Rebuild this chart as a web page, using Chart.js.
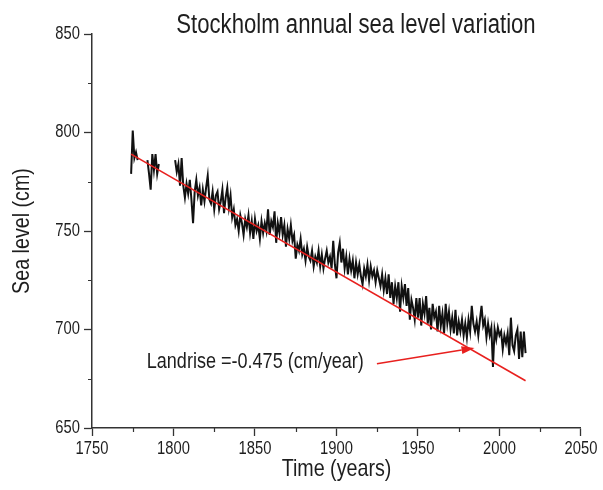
<!DOCTYPE html>
<html>
<head>
<meta charset="utf-8">
<script src="https://cdn.jsdelivr.net/npm/chart.js@4.4.1/dist/chart.umd.min.js"></script>
<style>
  html, body { margin: 0; padding: 0; background: #ffffff; }
  #wrap { width: 603px; height: 490px; }
</style>
</head>
<body>
<div id="wrap"><canvas id="c" width="603" height="490"></canvas></div>
<script>
// ---- data ----
const years = [
  1774,1775,1776,1777,1778,1779,
  1780,1781,1782,1783,1784,1785,1786,1787,1788,1789,
  1790,1791,1792,1793,1794,1795,1796,1797,1798,1799,
  1800,1801,1802,1803,1804,1805,1806,1807,1808,1809,
  1810,1811,1812,1813,1814,1815,1816,1817,1818,1819,
  1820,1821,1822,1823,1824,1825,1826,1827,1828,1829,
  1830,1831,1832,1833,1834,1835,1836,1837,1838,1839,
  1840,1841,1842,1843,1844,1845,1846,1847,1848,1849,
  1850,1851,1852,1853,1854,1855,1856,1857,1858,1859,
  1860,1861,1862,1863,1864,1865,1866,1867,1868,1869,
  1870,1871,1872,1873,1874,1875,1876,1877,1878,1879,
  1880,1881,1882,1883,1884,1885,1886,1887,1888,1889,
  1890,1891,1892,1893,1894,1895,1896,1897,1898,1899,
  1900,1901,1902,1903,1904,1905,1906,1907,1908,1909,
  1910,1911,1912,1913,1914,1915,1916,1917,1918,1919,
  1920,1921,1922,1923,1924,1925,1926,1927,1928,1929,
  1930,1931,1932,1933,1934,1935,1936,1937,1938,1939,
  1940,1941,1942,1943,1944,1945,1946,1947,1948,1949,
  1950,1951,1952,1953,1954,1955,1956,1957,1958,1959,
  1960,1961,1962,1963,1964,1965,1966,1967,1968,1969,
  1970,1971,1972,1973,1974,1975,1976,1977,1978,1979,
  1980,1981,1982,1983,1984,1985,1986,1987,1988,1989,
  1990,1991,1992,1993,1994,1995,1996,1997,1998,1999,
  2000,2001,2002,2003,2004,2005,2006,2007,2008,2009,
  2010,2011,2012,2013,2014,2015,2016
];
const seaLevel = [
  779,801,787,790,786,null,
  null,null,null,null,786,779,771,789,781,789,
  779,784,null,null,null,null,null,null,null,null,
  null,786,780,784,773,787,773,767,774,769,
  776,766,754,770,776,768,772,763,771,765,
  772,778,766,764,770,761,768,770,761,765,
  771,759,767,772,762,768,757,761,753,756,
  750,758,754,748,756,752,758,749,755,746,
  756,750,753,746,755,749,754,750,761,748,
  755,752,760,744,754,749,757,748,753,742,
  751,746,753,745,748,736,743,740,746,738,
  741,735,742,737,735,740,732,737,734,740,
  732,738,731,736,740,734,737,731,745,733,
  726,739,744,734,741,731,737,728,736,730,
  735,726,734,728,733,727,723,731,727,733,
  725,732,727,730,724,730,726,722,728,720,
  726,718,728,716,724,713,722,716,724,709,
  722,716,723,712,721,705,715,711,705,716,
  706,716,702,713,708,717,703,711,700,713,
  706,709,699,712,702,708,698,713,703,709,
  700,706,698,710,697,704,699,705,697,703,
  696,705,699,712,703,699,704,697,705,712,
  702,705,696,703,697,701,681,700,695,701,
  697,699,690,697,693,698,687,706,692,689,
  697,700,685,699,686,699,688
];
// linear land-rise fit (-0.475 cm/year)
const trendYears = [1774, 2016];
const trendLevel = [789, 674];

// tick values
const xMajorTicks = [1750, 1800, 1850, 1900, 1950, 2000, 2050];
const xMinorTicks = [1775, 1825, 1875, 1925, 1975, 2025];
const yMinorTicks = [675, 725, 775, 825];

// annotation (data coordinates)
const annotationText = 'Landrise =-0.475 (cm/year)';
const annotationAt = [1783.6, 683.3];
const arrowFrom = [1924.8, 682.6];
const arrowTo = [1984.7, 690.6];

const titleText = 'Stockholm annual sea level variation';

// ---- styling ----
const FONT = '"Liberation Sans", Arial, Helvetica, sans-serif';
const AXIS = '#333333';
const TEXT = '#1e1e1e';
const RED = '#e8201e';
const TEXT_SQUEEZE = 0.82; // reference text is horizontally condensed

const canvas = document.getElementById('c');
const ctx2d = canvas.getContext('2d');
// draw all text slightly condensed, like the reference picture
ctx2d.fillText = function (text, x, y, maxWidth) {
  this.save();
  this.translate(x, y);
  this.scale(TEXT_SQUEEZE, 1);
  if (maxWidth !== undefined) {
    CanvasRenderingContext2D.prototype.fillText.call(this, text, 0, 0, maxWidth / TEXT_SQUEEZE);
  } else {
    CanvasRenderingContext2D.prototype.fillText.call(this, text, 0, 0);
  }
  this.restore();
};

const minorTickPlugin = {
  id: 'minorTicks',
  afterDraw(chart) {
    const { ctx, chartArea, scales } = chart;
    ctx.save();
    ctx.strokeStyle = AXIS;
    ctx.lineWidth = 1.2;
    ctx.beginPath();
    xMinorTicks.forEach(v => {
      const px = Math.round(scales.x.getPixelForValue(v)) + 0.5;
      ctx.moveTo(px, chartArea.bottom);
      ctx.lineTo(px, chartArea.bottom + 4);
    });
    yMinorTicks.forEach(v => {
      const py = Math.round(scales.y.getPixelForValue(v)) + 0.5;
      ctx.moveTo(chartArea.left, py);
      ctx.lineTo(chartArea.left - 4, py);
    });
    ctx.stroke();
    ctx.restore();
  }
};

const annotationPlugin = {
  id: 'landrise',
  afterDraw(chart) {
    const { ctx, scales } = chart;
    const X = v => scales.x.getPixelForValue(v);
    const Y = v => scales.y.getPixelForValue(v);
    ctx.save();
    ctx.fillStyle = TEXT;
    ctx.font = '22px ' + FONT;
    ctx.textAlign = 'left';
    ctx.textBaseline = 'middle';
    ctx.fillText(annotationText, X(annotationAt[0]), Y(annotationAt[1]));
    const x0 = X(arrowFrom[0]), y0 = Y(arrowFrom[1]);
    const x1 = X(arrowTo[0]), y1 = Y(arrowTo[1]);
    const ang = Math.atan2(y1 - y0, x1 - x0);
    const headLen = 13, headW = 4;
    const bx = x1 - headLen * Math.cos(ang), by = y1 - headLen * Math.sin(ang);
    ctx.strokeStyle = RED;
    ctx.lineWidth = 1.5;
    ctx.beginPath();
    ctx.moveTo(x0, y0);
    ctx.lineTo(bx, by);
    ctx.stroke();
    ctx.fillStyle = RED;
    ctx.beginPath();
    ctx.moveTo(x1, y1);
    ctx.lineTo(bx + headW * Math.sin(ang), by - headW * Math.cos(ang));
    ctx.lineTo(bx - headW * Math.sin(ang), by + headW * Math.cos(ang));
    ctx.closePath();
    ctx.fill();
    ctx.restore();
  }
};

const titlePlugin = {
  id: 'topTitle',
  afterDraw(chart) {
    const { ctx } = chart;
    ctx.save();
    ctx.fillStyle = TEXT;
    ctx.font = '27px ' + FONT;
    ctx.textAlign = 'center';
    ctx.textBaseline = 'middle';
    ctx.fillText(titleText, 356, 26);
    ctx.restore();
  }
};

new Chart(canvas, {
  type: 'line',
  data: {
    datasets: [
      {
        label: 'Sea level',
        data: years.map((yr, i) => ({ x: yr, y: seaLevel[i] })),
        borderColor: '#111111',
        borderWidth: 2,
        pointRadius: 0,
        tension: 0,
        spanGaps: false,
        order: 2
      },
      {
        label: 'Landrise fit',
        data: trendYears.map((yr, i) => ({ x: yr, y: trendLevel[i] })),
        borderColor: RED,
        borderWidth: 1.6,
        pointRadius: 0,
        tension: 0,
        order: 1
      }
    ]
  },
  options: {
    responsive: false,
    animation: false,
    devicePixelRatio: 1,
    layout: { padding: { left: 0, right: 20, top: 34, bottom: 0 } },
    plugins: {
      legend: { display: false },
      tooltip: { enabled: false },
      title: { display: false }
    },
    scales: {
      x: {
        type: 'linear',
        min: 1750,
        max: 2050,
        afterFit(s) { s.height = 62; },
        afterBuildTicks(s) { s.ticks = xMajorTicks.map(v => ({ value: v })); },
        ticks: {
          callback: v => String(v),
          font: { family: FONT, size: 18 },
          color: TEXT,
          padding: 2,
          maxRotation: 0,
          autoSkip: false
        },
        grid: { drawOnChartArea: false, drawTicks: true, tickLength: 8, tickColor: AXIS, tickWidth: 1.3 },
        border: { display: true, color: AXIS, width: 1.5 },
        title: {
          display: true,
          text: 'Time (years)',
          font: { family: FONT, size: 24 },
          color: TEXT,
          padding: { top: 0, bottom: 6 }
        }
      },
      y: {
        min: 650,
        max: 850,
        afterFit(s) { s.width = 92; },
        ticks: {
          stepSize: 50,
          callback: v => String(v),
          font: { family: FONT, size: 18 },
          color: TEXT,
          padding: 4
        },
        grid: { drawOnChartArea: false, drawTicks: true, tickLength: 8, tickColor: AXIS, tickWidth: 1.3 },
        border: { display: true, color: AXIS, width: 1.5 },
        title: {
          display: true,
          text: 'Sea level (cm)',
          font: { family: FONT, size: 24 },
          color: TEXT,
          padding: { top: 8, bottom: 0 }
        }
      }
    }
  },
  plugins: [minorTickPlugin, annotationPlugin, titlePlugin]
});
</script>
</body>
</html>
